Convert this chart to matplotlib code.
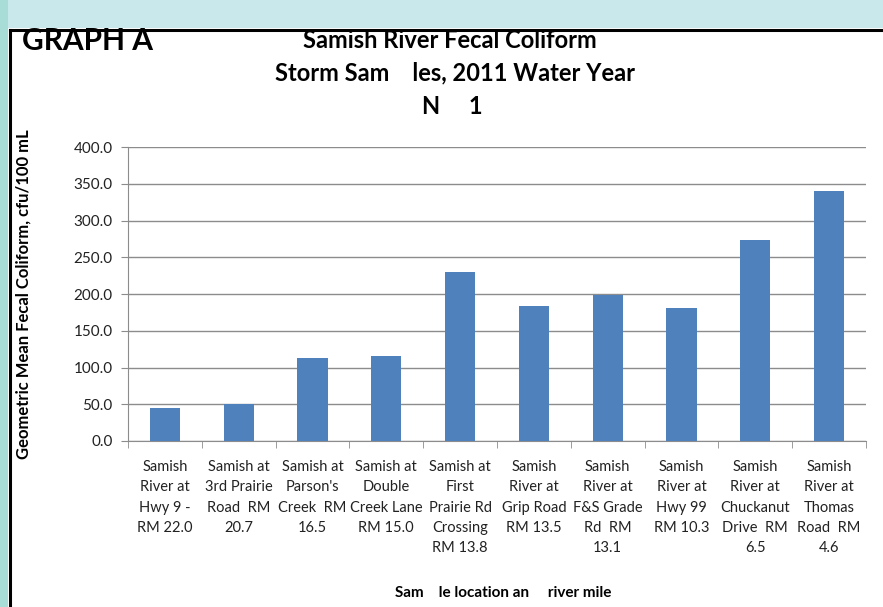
import matplotlib
matplotlib.use("Agg")
import matplotlib.pyplot as plt
from matplotlib.patches import Rectangle
from matplotlib.lines import Line2D
import numpy as np

plt.rcParams['font.family'] = ['Lato', 'DejaVu Sans']

# Sampling sites (upstream -> downstream)
sites = [
    "Samish\nRiver at\nHwy 9 -\nRM 22.0",
    "Samish at\n3rd Prairie\nRoad  RM\n20.7",
    "Samish at\nParson's\nCreek  RM\n16.5",
    "Samish at\nDouble\nCreek Lane\nRM 15.0",
    "Samish at\nFirst\nPrairie Rd\nCrossing\nRM 13.8",
    "Samish\nRiver at\nGrip Road\nRM 13.5",
    "Samish\nRiver at\nF&S Grade\nRd  RM\n13.1",
    "Samish\nRiver at\nHwy 99\nRM 10.3",
    "Samish\nRiver at\nChuckanut\nDrive  RM\n6.5",
    "Samish\nRiver at\nThomas\nRoad  RM\n4.6",
]
geo_mean = [45.0, 51.0, 113.0, 116.0, 230.0, 184.0, 199.0, 181.0, 273.0, 340.0]
yticks = [0, 50, 100, 150, 200, 250, 300, 350, 400]

fig = plt.figure(figsize=(8.83, 6.07), dpi=100)
fig.patch.set_facecolor("white")

# teal page background + black frame around the chart
teal = "#c8e8ec"
fig.patches.append(Rectangle((0, 1 - 28 / 607), 1, 28 / 607, transform=fig.transFigure,
                             facecolor=teal, edgecolor="none", zorder=0))
fig.patches.append(Rectangle((0, 0), 8 / 883, 1, transform=fig.transFigure,
                             facecolor="#a8dcd6", edgecolor="none", zorder=0))
fig.lines.append(Line2D([9.5 / 883, 1], [1 - 29.5 / 607, 1 - 29.5 / 607],
                        transform=fig.transFigure, color="black", lw=2.2))
fig.lines.append(Line2D([9.5 / 883, 9.5 / 883], [0, 1 - 29.5 / 607],
                        transform=fig.transFigure, color="black", lw=2.2))

ax = fig.add_axes([128 / 883, 1 - 441 / 607, 738 / 883, 294 / 607])
x = np.arange(len(sites))
ax.bar(x, geo_mean, width=0.41, color="#4f81bd", zorder=3)

ax.set_xlim(-0.5, len(sites) - 0.5)
ax.set_ylim(0, 400)
ax.set_yticks(yticks)
ax.set_yticklabels([f"{v:.1f}" for v in yticks], fontsize=11, color="#222222")
ax.grid(axis="y", color="#8c8c8c", lw=1.0, zorder=0)
ax.tick_params(axis="y", length=5, color="#8c8c8c", pad=6)

# category labels centred, tick marks at category boundaries
ax.set_xticks(x)
ax.set_xticklabels(sites, fontsize=10.5, linespacing=1.55, color="#222222")
ax.tick_params(axis="x", length=0, pad=14)
ax.set_xticks(np.arange(-0.5, len(sites)), minor=True)
ax.tick_params(axis="x", which="minor", length=5, color="#8c8c8c")

for s in ["top", "right"]:
    ax.spines[s].set_visible(False)
ax.spines["left"].set_color("#8c8c8c")
ax.spines["bottom"].set_color("#8c8c8c")

ax.set_ylabel("Geometric Mean Fecal Coliform, cfu/100 mL", fontsize=12,
              fontweight="bold")
ax.yaxis.set_label_coords(-0.131, 0.5)

fig.text(22 / 883, 1 - 41 / 607, "GRAPH A", fontsize=21.5, fontweight="bold",
         ha="left", va="center")
fig.text(450 / 883, 1 - 40 / 607, "Samish River Fecal Coliform", fontsize=17,
         fontweight="bold", ha="center", va="center")
fig.text(455 / 883, 1 - 73 / 607, "Storm Sam    les, 2011 Water Year", fontsize=17,
         fontweight="bold", ha="center", va="center")
fig.text(452 / 883, 1 - 107 / 607, "N     1", fontsize=17,
         fontweight="bold", ha="center", va="center")
fig.text(503 / 883, 1 - 593 / 607, "Sam    le location an     river mile", fontsize=11,
         fontweight="bold", ha="center", va="center")

fig.savefig("out.png", dpi=100)
